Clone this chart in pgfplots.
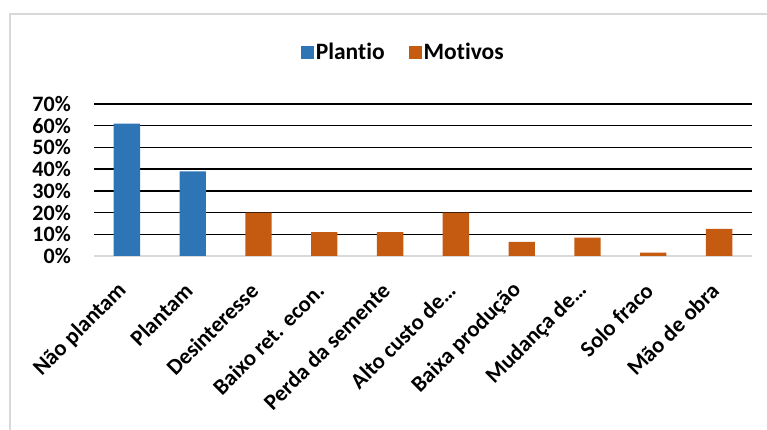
\documentclass[border=0pt]{standalone}
\usepackage{pgfplots}
\pgfplotsset{compat=1.18}
\usepackage{fontspec}
\setmainfont{Carlito}[Ligatures=NoCommon]
\definecolor{plantio}{HTML}{2E75B6}
\definecolor{motivos}{HTML}{C55A11}
\definecolor{framegray}{HTML}{D9D9D9}

\begin{document}
\begin{tikzpicture}[x=1pt,y=1pt]
\path[use as bounding box] (0,0) rectangle (767,430);
% chart area border (left and top edges)
\draw[framegray, line width=1.5pt] (10,-5) -- (10,416) -- (772,416);
\begin{axis}[
  at={(94pt,174pt)}, anchor=south west,
  scale only axis, width=658pt, height=152pt,
  xmin=-0.5, xmax=9.5, ymin=0, ymax=70,
  ybar, bar width=0.4,
  axis lines*=left,
  y axis line style={draw=none},
  x axis line style={framegray, line width=1.2pt},
  major tick length=0pt,
  xtick={0,...,9},
  xticklabels={Não plantam, Plantam, Desinteresse, Baixo ret. econ., Perda da semente, Alto custo de…, Baixa produção, Mudança de…, Solo fraco, Mão de obra},
  xticklabel style={font=\fontsize{22.5}{26}\selectfont\bfseries, inner sep=0pt, anchor=east,
    yshift=-31pt, xshift=-4pt, rotate=45},
  ytick={10,20,...,70},
  extra y ticks={0},
  extra y tick style={grid=none},
  yticklabel={\pgfmathparse{int(\tick)}\pgfmathresult\%},
  yticklabel style={font=\fontsize{22}{26}\selectfont\bfseries, inner sep=0pt, anchor=east, xshift=-23pt},
  ymajorgrids,
  major grid style={black, line width=1.5pt},
  legend columns=2,
  legend style={at={(axis description cs:0.47,1.342)}, anchor=center, draw=none, fill=none,
    font=\fontsize{23.5}{27}\selectfont\bfseries,
    /tikz/every even column/.append style={column sep=22pt}},
  legend image code/.code={\fill[#1] (0pt,-6.5pt) rectangle (13pt,6.5pt);},
]
\addplot[fill=plantio, draw=none, bar shift=0pt] coordinates {(0,61) (1,39)};
\addlegendentry{Plantio}
\addplot[fill=motivos, draw=none, bar shift=0pt] coordinates {(2,20) (3,11) (4,11) (5,20) (6,6.5) (7,8.5) (8,1.5) (9,12.5)};
\addlegendentry{Motivos}
\end{axis}
\end{tikzpicture}
\end{document}
